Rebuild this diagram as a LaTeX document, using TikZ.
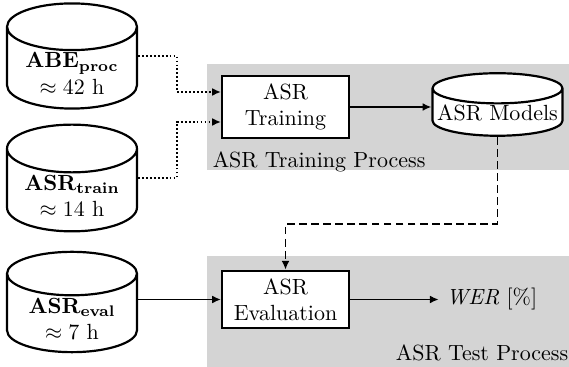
\documentclass[tikz,border=0pt]{standalone}
\usepackage{tikz}
\usetikzlibrary{positioning,arrows.meta,shapes.geometric,calc}
\definecolor{procbg}{gray}{0.83}
% two lines in a box of fixed height, so that the cylinder keeps its size
\newcommand{\dbtext}[2]{\raisebox{-6pt}[7.75pt][7.75pt]{\begin{tabular}{@{}c@{}}#1\\#2\end{tabular}}}
\tikzset{
  db/.style={cylinder, shape border rotate=90, aspect=0.5, draw, line width=1pt,
             fill=white, minimum width=2.08cm, minimum height=1.6cm, align=center,
             inner sep=0pt},
  proc/.style={rectangle, draw, line width=1pt, fill=white,
               minimum width=2.03cm, minimum height=0.92cm, align=center},
  region/.style={fill=procbg, draw=none},
  flow/.style={-{Latex[length=4pt,width=3.6pt]}, thick},
  feed/.style={flow, dash pattern=on 0.8pt off 1pt},
  load/.style={flow, dash pattern=on 3.5pt off 2pt}
}

\begin{document}
\begin{tikzpicture}[x=0.016cm, y=0.016cm]
\useasboundingbox (0,0) rectangle (569,367);
% grey process areas
\fill[region] (207,303) rectangle (569,197);
\fill[region] (207,111) rectangle (569,0);
\node[anchor=west] (trainlbl) at (205,205) {ASR Training Process};
\node[anchor=east] (testlbl) at (576,14) {ASR Test Process};

% corpora
\node[db, anchor=shape center] (abe) at (72,311) {\dbtext{$\mathbf{ABE}_{\mathbf{proc}}$}{$\approx 42$ h}};
\node[db, anchor=shape center] (asrtrain) at (72,189) {\dbtext{$\mathbf{ASR}_{\mathbf{train}}$}{$\approx 14$ h}};
\node[db, anchor=shape center] (asreval) at (72,65) {\dbtext{$\mathbf{ASR}_{\mathbf{eval}}$}{$\approx 7$ h}};

% processing steps
\node[proc] (trainbox) at (285.5,260) {ASR\\Training};
\node[db, anchor=shape center, aspect=0.25, minimum height=0.85cm] (models) at (497.5,262.5) {ASR Models};
\node[proc] (evalbox) at (285.5,67.5) {ASR\\Evaluation};
\node[right=1.42cm of evalbox] (wer) {\textit{WER} [\%]};

\draw[feed] (abe.shape center -| abe.east) -| ($(trainbox.west)+(-44,15)$) -- ($(trainbox.west)+(0,15)$);
\draw[feed] (asrtrain.shape center -| asrtrain.east) -| ($(trainbox.west)+(-44,-15)$) -- ($(trainbox.west)+(0,-15)$);
\draw[flow] (trainbox.east) -- (trainbox.east -| models.west);
\draw[load] (models.south) -- ++(0,-87) -| (evalbox.north);
\draw[flow] (evalbox.west -| asreval.east) -- (evalbox.west);
\draw[flow] (evalbox) -- (wer);
\end{tikzpicture}
\end{document}
